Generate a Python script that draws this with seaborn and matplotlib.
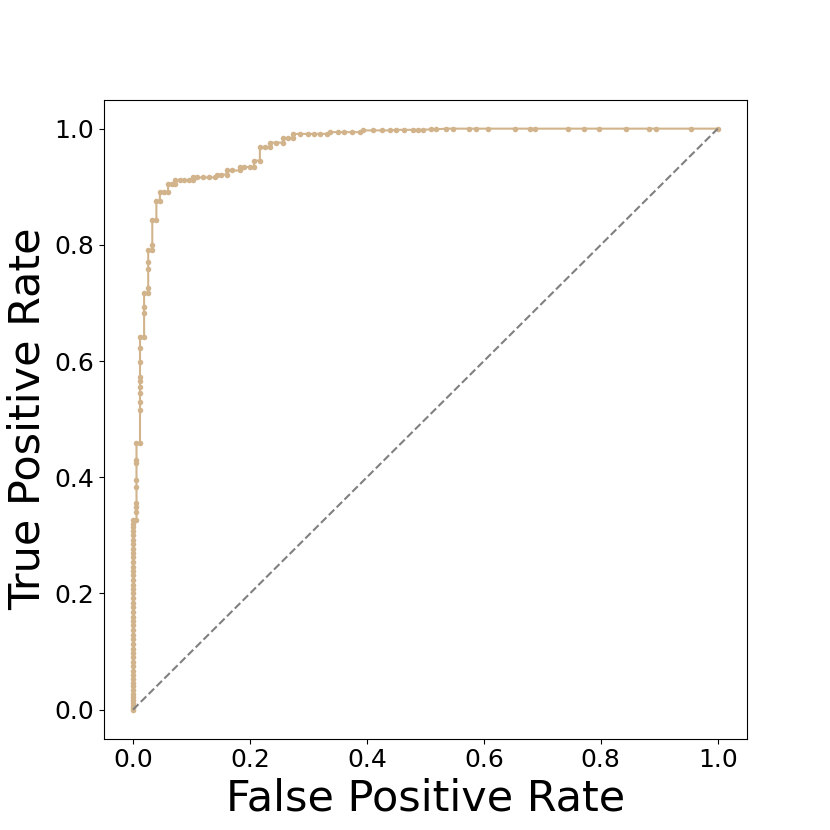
import numpy as np
import pandas as pd
import seaborn as sns
import matplotlib
matplotlib.use("Agg")
import matplotlib.pyplot as plt

# roc points (fpr, tpr in order)
fpr = [0, 0, 0, 0, 0, 0, 0, 0, 0, 0, 0, 0, 0, 0, 0, 0, 0, 0, 0, 0,
       0, 0, 0, 0, 0, 0, 0, 0, 0, 0, 0, 0, 0, 0, 0, 0, 0, 0, 0, 0,
       0, 0, 0, 0, 0, 0, 0,
       0.006, 0.006, 0.006, 0.006, 0.006, 0.006, 0.006, 0.006, 0.006,
       0.012, 0.012, 0.012, 0.012, 0.012, 0.012, 0.012, 0.012, 0.012, 0.012,
       0.019, 0.019, 0.019, 0.019,
       0.026, 0.026, 0.026, 0.026, 0.026,
       0.033, 0.033, 0.033,
       0.040, 0.040,
       0.046, 0.046, 0.053, 0.060, 0.060, 0.066, 0.072, 0.072,
       0.080, 0.087, 0.095, 0.103, 0.103, 0.110, 0.120, 0.130, 0.140,
       0.143, 0.150, 0.160, 0.160, 0.170, 0.183, 0.183, 0.190, 0.200, 0.207,
       0.207, 0.217, 0.217, 0.225, 0.234, 0.234, 0.245, 0.257, 0.257, 0.265,
       0.274, 0.274, 0.285, 0.300, 0.310, 0.320, 0.331,
       0.337, 0.350, 0.360, 0.375, 0.388,
       0.393, 0.410, 0.425, 0.439,
       0.450, 0.464, 0.478, 0.487, 0.496, 0.510, 0.519, 0.536, 0.548, 0.574,
       0.587, 0.607, 0.653, 0.679, 0.687, 0.744, 0.771, 0.797, 0.843, 0.882,
       0.895, 0.954, 1.0]
tpr = [0.0, 0.003, 0.007, 0.012, 0.017, 0.022, 0.027, 0.033, 0.040, 0.046,
       0.053, 0.060, 0.067, 0.075, 0.082, 0.090, 0.098, 0.105, 0.113, 0.121,
       0.129, 0.137, 0.145, 0.153, 0.160, 0.168, 0.176, 0.184, 0.192, 0.200,
       0.208, 0.215, 0.223, 0.231, 0.239, 0.246, 0.254, 0.262, 0.270, 0.277,
       0.285, 0.292, 0.300, 0.307, 0.314, 0.320, 0.326,
       0.326, 0.340, 0.348, 0.355, 0.383, 0.395, 0.424, 0.430, 0.459,
       0.459, 0.516, 0.530, 0.545, 0.555, 0.565, 0.573, 0.599, 0.622, 0.642,
       0.642, 0.683, 0.693, 0.717,
       0.717, 0.725, 0.759, 0.770, 0.791,
       0.791, 0.800, 0.842,
       0.842, 0.876,
       0.876, 0.891, 0.891, 0.891, 0.905, 0.905, 0.905, 0.911,
       0.911, 0.911, 0.911, 0.911, 0.916, 0.916, 0.916, 0.916, 0.916,
       0.921, 0.921, 0.921, 0.928, 0.928, 0.928, 0.934, 0.934, 0.934, 0.934,
       0.945, 0.945, 0.968, 0.968, 0.968, 0.976, 0.976, 0.976, 0.984, 0.984,
       0.984, 0.991, 0.991, 0.991, 0.991, 0.991, 0.991,
       0.994, 0.994, 0.994, 0.994, 0.994,
       0.997, 0.997, 0.997, 0.997,
       0.998, 0.998, 0.998, 0.998, 0.998, 0.999, 0.999, 1.0, 1.0, 1.0,
       1.0, 1.0, 1.0, 1.0, 1.0, 1.0, 1.0, 1.0, 1.0, 1.0,
       1.0, 1.0, 1.0]

df = pd.DataFrame({"fpr": fpr, "tpr": tpr})

fig, ax = plt.subplots(figsize=(8.3, 8.3), dpi=100)
sns.lineplot(data=df, x="fpr", y="tpr", sort=False, estimator=None,
             color="tan", marker="o", markersize=4, markeredgewidth=0,
             linewidth=1.5, ax=ax)
ax.plot([0, 1], [0, 1], linestyle="--", color="gray")
ax.set_xlabel("False Positive Rate", fontsize=31)
ax.set_ylabel("True Positive Rate", fontsize=31)
ax.tick_params(labelsize=18)
plt.savefig("out.png", dpi=100)
